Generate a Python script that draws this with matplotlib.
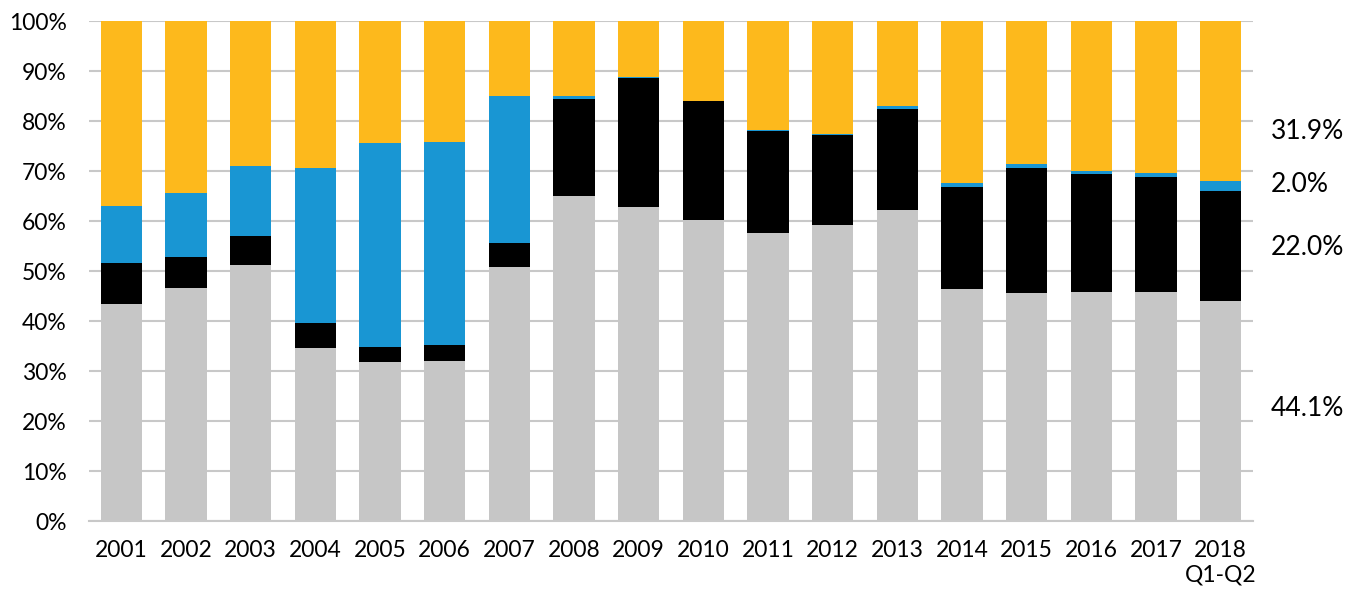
import numpy as np
import matplotlib.pyplot as plt

plt.rcParams['font.family'] = ['Lato', 'DejaVu Sans']

years = ['2001', '2002', '2003', '2004', '2005', '2006', '2007', '2008', '2009',
         '2010', '2011', '2012', '2013', '2014', '2015', '2016', '2017', '2018\nQ1-Q2']
grey = np.array([43.5, 46.6, 51.3, 34.7, 31.9, 32.0, 50.9, 65.0, 62.9,
                 60.2, 57.7, 59.2, 62.2, 46.5, 45.6, 45.8, 45.8, 44.1])
black = np.array([8.2, 6.3, 5.8, 5.0, 3.0, 3.2, 4.8, 19.5, 25.8,
                  23.8, 20.4, 18.1, 20.3, 20.4, 25.1, 23.7, 23.1, 22.0])
blue = np.array([11.4, 12.8, 13.9, 31.0, 40.8, 40.6, 29.4, 0.5, 0.1,
                 0.1, 0.1, 0.2, 0.6, 0.8, 0.8, 0.6, 0.8, 2.0])
yellow = 100 - grey - black - blue
yellow[-1] = 31.9

# labels for the last bar, placed by hand like the original
last_labels = ['44.1%', '22.0%', '2.0%', '31.9%']
label_y = [22.6, 54.8, 67.4, 78.0]

fig = plt.figure(figsize=(13.54, 5.92), dpi=100)
ax = fig.add_axes([0.0657, 0.1199, 0.8597, 0.8446])

x = np.arange(len(years))
w = 0.64
ax.bar(x, grey, w, color='#c6c6c6', zorder=2)
ax.bar(x, black, w, bottom=grey, color='#000000', zorder=2)
ax.bar(x, blue, w, bottom=grey + black, color='#1996d3', zorder=2)
ax.bar(x, yellow, w, bottom=grey + black + blue, color='#fdb91c', zorder=2)

ax.set_xlim(-0.5, len(years) - 0.5)
ax.set_ylim(0, 100)
ax.set_yticks(np.arange(0, 101, 10))
ax.set_yticklabels(['%d%%' % v for v in range(0, 101, 10)])
ax.set_xticks(x)
ax.set_xticklabels(years, linespacing=1.15)
ax.yaxis.grid(True, color='#c8c8c8', linewidth=1.5, zorder=0)
ax.tick_params(axis='both', length=0, labelsize=16.5, colors='black')
ax.tick_params(axis='y', pad=16)
ax.tick_params(axis='x', pad=14)
for s in ['top', 'right', 'left']:
    ax.spines[s].set_visible(False)
ax.spines['bottom'].set_color('#c8c8c8')
ax.spines['bottom'].set_linewidth(1.5)

for t, yy in zip(last_labels, label_y):
    ax.text(len(years) - 0.23, yy, t, fontsize=19, va='center', ha='left')

fig.savefig('out.png', dpi=100)
